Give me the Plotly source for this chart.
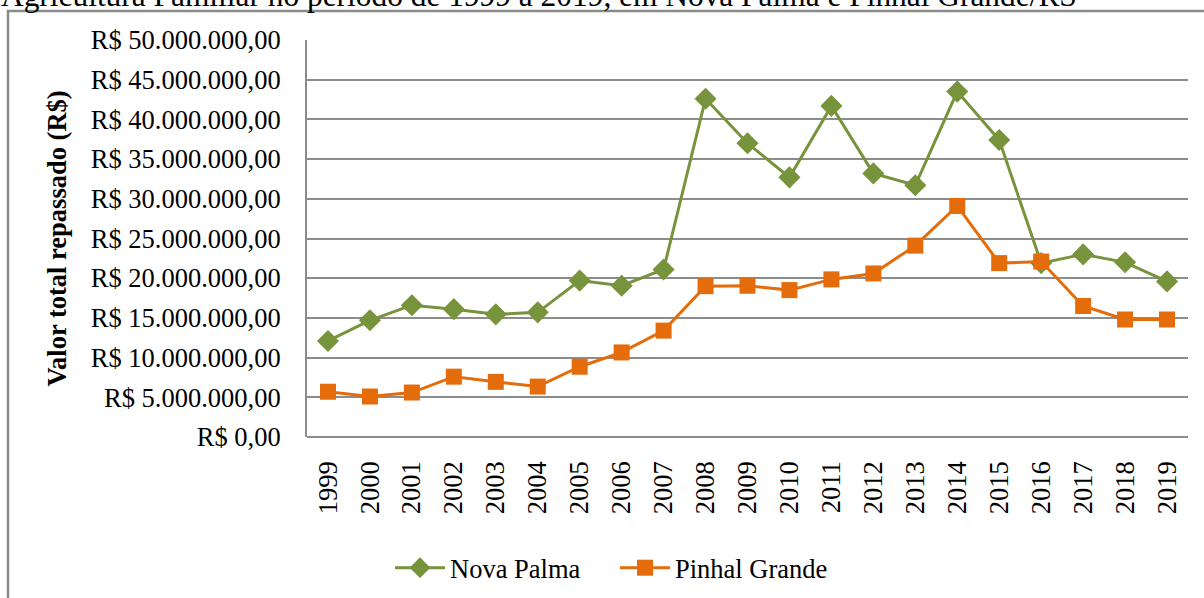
"""Valor total repassado à Agricultura Familiar, 1999-2019.

Line chart comparing Nova Palma and Pinhal Grande/RS, drawn with Plotly
in the style of the original spreadsheet chart (serif text, grey grid).
"""

import plotly.graph_objects as go

# ---------------------------------------------------------------------------
# Data (in R$)
# ---------------------------------------------------------------------------

years = [str(y) for y in range(1999, 2020)]

nova_palma = [
    12_100_000, 14_700_000, 16_600_000, 16_100_000, 15_450_000, 15_700_000,
    19_700_000, 19_050_000, 21_100_000, 42_600_000, 37_000_000, 32_700_000,
    41_700_000, 33_200_000, 31_700_000, 43_500_000, 37_400_000, 21_900_000,
    23_000_000, 22_000_000, 19_600_000,
]

pinhal_grande = [
    5_700_000, 5_100_000, 5_600_000, 7_600_000, 6_950_000, 6_350_000,
    8_850_000, 10_650_000, 13_400_000, 19_000_000, 19_050_000, 18_500_000,
    19_850_000, 20_600_000, 24_100_000, 29_100_000, 21_900_000, 22_100_000,
    16_500_000, 14_800_000, 14_800_000,
]

y_tick_values = [0, 5e6, 10e6, 15e6, 20e6, 25e6, 30e6, 35e6, 40e6, 45e6, 50e6]
y_tick_labels = [
    "R$ 0,00", "R$ 5.000.000,00", "R$ 10.000.000,00", "R$ 15.000.000,00",
    "R$ 20.000.000,00", "R$ 25.000.000,00", "R$ 30.000.000,00",
    "R$ 35.000.000,00", "R$ 40.000.000,00", "R$ 45.000.000,00",
    "R$ 50.000.000,00",
]

caption = ("Agricultura Familiar no período de 1999 a 2019, "
           "em Nova Palma e Pinhal Grande/RS")

# ---------------------------------------------------------------------------
# Styling
# ---------------------------------------------------------------------------

FONT = "Liberation Serif, Times New Roman, serif"
FS = 26.5
GREEN = "#77933C"
ORANGE = "#E46C0A"
GRID = "#8c8c8c"
W, H = 1204, 598
L, R, T, B = 307, 16, 40, 161


def px_to_paper_x(px):
    return (px - L) / (W - L - R)


def px_to_paper_y(py):
    return (H - B - py) / (H - T - B)


fig = go.Figure()
fig.add_trace(go.Scatter(
    x=years, y=nova_palma, name="Nova Palma", mode="lines+markers",
    line=dict(color=GREEN, width=3),
    marker=dict(symbol="diamond", size=17, color=GREEN),
))
fig.add_trace(go.Scatter(
    x=years, y=pinhal_grande, name="Pinhal Grande", mode="lines+markers",
    line=dict(color=ORANGE, width=3),
    marker=dict(symbol="square", size=16, color=ORANGE),
))

# chart-area frame (only top and left edges are visible in the crop)
fig.add_shape(
    type="rect", xref="paper", yref="paper", layer="below",
    x0=px_to_paper_x(8), x1=px_to_paper_x(1230),
    y0=px_to_paper_y(630), y1=px_to_paper_y(11),
    line=dict(color="#8a8a8a", width=2.5),
)

# figure caption from the surrounding document, cut off at the top
fig.add_annotation(
    text=caption, xref="paper", yref="paper", showarrow=False,
    x=px_to_paper_x(-1), y=px_to_paper_y(15),
    xanchor="left", yanchor="bottom",
    font=dict(family=FONT, size=31.4, color="black"),
)

fig.update_layout(
    width=W, height=H,
    margin=dict(l=L, r=R, t=T, b=B, autoexpand=False),
    paper_bgcolor="white", plot_bgcolor="white",
    font=dict(family=FONT, size=FS, color="black"),
    showlegend=True,
    legend=dict(
        orientation="h", x=px_to_paper_x(390), xanchor="left",
        y=px_to_paper_y(568), yanchor="middle",
        itemwidth=50, entrywidth=160, entrywidthmode="pixels",
        font=dict(family=FONT, size=FS), bgcolor="rgba(0,0,0,0)",
    ),
)
fig.update_xaxes(
    type="category", range=[-0.5, len(years) - 0.5], automargin=False,
    tickangle=-90, ticks="", ticklabelstandoff=18,
    showgrid=False, showline=False, zeroline=False,
    tickfont=dict(family=FONT, size=FS),
)
fig.update_yaxes(
    range=[0, 50e6], tickvals=y_tick_values, ticktext=y_tick_labels,
    automargin=False, ticks="", ticklabelstandoff=19,
    showgrid=True, gridcolor=GRID, gridwidth=2,
    showline=True, linecolor=GRID, linewidth=2, mirror=False,
    zeroline=True, zerolinecolor=GRID, zerolinewidth=2,
    title=dict(text="<b>Valor total repassado (R$)</b>", standoff=16,
               font=dict(family=FONT, size=FS)),
    tickfont=dict(family=FONT, size=FS),
)

# the page's default body margin would shift the whole chart by 8px
fig.write_html(
    "out.html",
    config={"displayModeBar": False},
    post_script="document.body.style.margin = '0';",
)
